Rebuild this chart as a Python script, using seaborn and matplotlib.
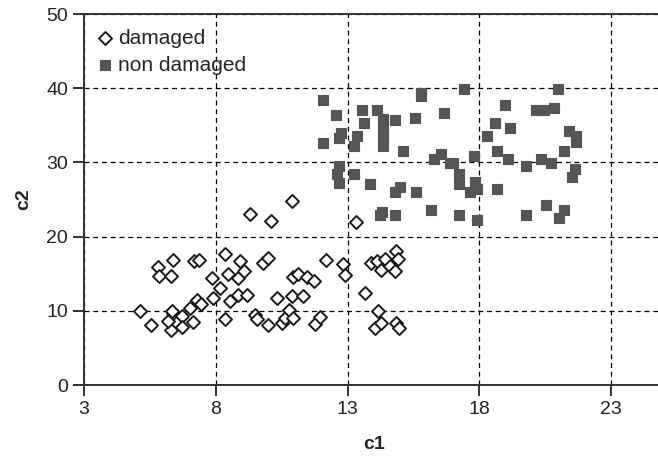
import pandas as pd
import seaborn as sns
import matplotlib.pyplot as plt

# damaged samples (open diamonds)
damaged_c1 = [5.13, 5.54, 5.82, 5.86, 6.39, 6.3, 6.3, 6.2, 6.39, 6.71,
              6.71, 7.12, 7.19, 7.38, 7.02, 7.28, 7.43, 7.85, 7.91, 8.16,
              8.35, 8.35, 8.45, 8.54, 8.92, 8.86, 9.07, 8.86, 9.17, 9.49,
              9.55, 9.8, 9.99, 9.99, 10.31, 10.5, 10.63, 10.88, 10.94, 11.11,
              10.79, 10.92, 11.3, 11.45, 11.73, 11.77, 11.96, 12.2, 12.82, 12.9,
              13.68, 13.9, 14.1, 14.28, 14.41, 14.6, 14.79, 14.85, 14.92, 14.16,
              14.03, 14.28, 14.85, 14.94, 9.3, 10.1, 10.88, 13.31, 6.33]
damaged_c2 = [10.0, 8.1, 15.85, 14.7, 16.8, 14.7, 7.45, 8.6, 9.7, 9.25,
              7.8, 8.45, 16.7, 16.9, 10.4, 11.5, 10.9, 14.4, 11.7, 13.1,
              17.65, 8.95, 14.9, 11.35, 16.7, 14.4, 15.3, 12.2, 12.1, 9.4,
              8.95, 16.5, 17.1, 8.1, 11.7, 8.35, 9.1, 11.95, 14.5, 14.9,
              10.1, 9.0, 11.95, 14.5, 14.05, 8.2, 9.2, 16.9, 16.3, 14.8,
              12.4, 16.45, 16.7, 15.55, 17.0, 16.0, 15.4, 18.0, 17.0, 10.0,
              7.7, 8.35, 8.35, 7.7, 23.0, 22.1, 24.8, 22.0, 10.0]

# non damaged samples (filled squares)
intact_c1 = [12.08, 15.78, 15.78, 17.42, 21.0, 12.56, 13.55, 14.13, 13.64, 14.33,
             14.33, 14.33, 14.33, 14.8, 15.57, 16.65, 12.77, 12.67, 13.35, 12.08,
             13.26, 15.1, 16.28, 16.56, 16.88, 17.0, 17.8, 12.68, 12.6, 12.68,
             13.25, 13.84, 14.79, 14.98, 15.59, 17.23, 17.23, 17.83, 17.64, 17.92,
             18.69, 14.22, 14.32, 14.79, 16.15, 17.23, 17.92, 18.3, 18.59, 18.99,
             19.18, 18.69, 19.09, 19.76, 20.17, 20.46, 20.82, 20.35, 20.73, 21.22,
             21.4, 21.68, 21.68, 21.62, 21.52, 19.76, 20.55, 21.22, 21.03]
intact_c2 = [38.4, 39.4, 38.9, 39.85, 39.85, 36.4, 37.1, 37.1, 35.35, 35.8,
             34.9, 33.6, 32.2, 35.7, 36.0, 36.7, 34.0, 33.25, 33.6, 32.65,
             32.25, 31.5, 30.5, 31.2, 29.9, 29.9, 30.9, 29.5, 28.5, 27.2,
             28.5, 27.1, 25.95, 26.7, 25.95, 28.5, 27.1, 27.4, 25.95, 26.4,
             26.4, 22.9, 23.3, 22.9, 23.6, 22.9, 22.2, 33.6, 35.35, 37.7,
             34.6, 31.5, 30.45, 29.5, 37.1, 37.1, 37.4, 30.45, 29.9, 31.5,
             34.3, 33.5, 32.8, 29.1, 28.1, 22.9, 24.25, 23.6, 22.55]

x_ticks = [3, 8, 13, 18, 23]
y_ticks = [0, 10, 20, 30, 40, 50]

df_dam = pd.DataFrame({"c1": damaged_c1, "c2": damaged_c2})
df_non = pd.DataFrame({"c1": intact_c1, "c2": intact_c2})

sns.set_style("ticks")
plt.rcParams["font.family"] = ["Liberation Sans", "DejaVu Sans"]

fig = plt.figure(figsize=(6.58, 4.57), dpi=100)
ax = fig.add_axes([0.1277, 0.1575, 0.881, 0.8118])

sns.scatterplot(data=df_dam, x="c1", y="c2", marker="D", s=44,
                color="white", edgecolor="#1a1a1a", linewidth=1.4,
                label="damaged", ax=ax, zorder=3)
sns.scatterplot(data=df_non, x="c1", y="c2", marker="s", s=44,
                color="#555555", edgecolor="#555555", linewidth=0.8,
                label="non damaged", ax=ax, zorder=3)

ax.set_xlim(3, 25)
ax.set_ylim(0, 50)
ax.set_xticks(x_ticks)
ax.set_yticks(y_ticks)
ax.grid(True, color="black", linestyle=(0, (4, 3)), linewidth=0.9)
ax.tick_params(labelsize=14, length=8, width=1.4, colors="#333333",
               labelcolor="#222222", direction="out")

for side in ["left", "bottom", "top"]:
    ax.spines[side].set_color("#333333")
    ax.spines[side].set_linewidth(1.4)
ax.spines["right"].set_visible(False)

ax.set_xlabel("c1", fontsize=14, fontweight="bold", labelpad=13)
ax.set_ylabel("c2", fontsize=14, fontweight="bold", labelpad=10)

leg = ax.legend(loc="upper left", frameon=False, fontsize=15,
                handlelength=0.6, handletextpad=0.35, labelspacing=0.4,
                borderaxespad=0.3, bbox_to_anchor=(0.0, 1.0))

fig.savefig("out.png", dpi=100)
